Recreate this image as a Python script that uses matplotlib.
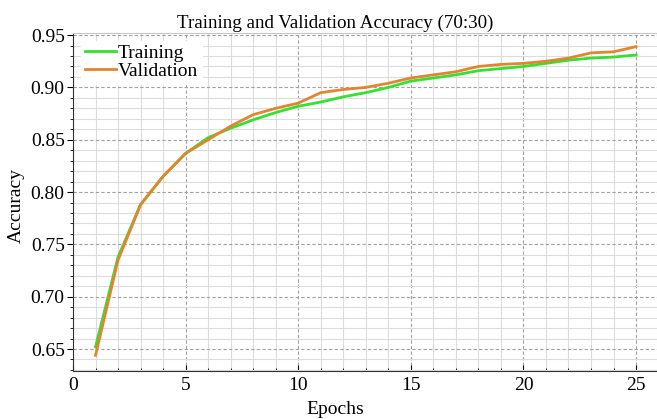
import matplotlib.pyplot as plt
from matplotlib.ticker import MultipleLocator

plt.rcParams['font.family'] = ['Liberation Serif', 'DejaVu Serif']

epochs = list(range(1, 26))
train_acc = [0.652, 0.738, 0.788, 0.815, 0.837, 0.852, 0.861, 0.869, 0.876, 0.882,
             0.886, 0.891, 0.895, 0.900, 0.906, 0.909, 0.912, 0.916, 0.918, 0.920,
             0.923, 0.926, 0.928, 0.929, 0.931]
val_acc = [0.644, 0.735, 0.788, 0.815, 0.837, 0.850, 0.863, 0.874, 0.880, 0.885,
           0.895, 0.898, 0.900, 0.904, 0.909, 0.912, 0.915, 0.920, 0.922, 0.923,
           0.925, 0.928, 0.933, 0.934, 0.939]

fig = plt.figure(figsize=(6.57, 4.19), dpi=100)
ax = fig.add_axes([73 / 657, 1 - 371 / 419, 584 / 657, 338 / 419])

ax.plot(epochs, train_acc, color='#33e033', lw=2, label='Training')
ax.plot(epochs, val_acc, color='#e0862e', lw=2, label='Validation')

ax.set_xlim(0, 25.93)
ax.set_ylim(0.629, 0.952)
ax.xaxis.set_major_locator(MultipleLocator(5))
ax.xaxis.set_minor_locator(MultipleLocator(1))
ax.yaxis.set_major_locator(MultipleLocator(0.05))
ax.yaxis.set_minor_locator(MultipleLocator(0.01))
ax.yaxis.set_major_formatter(plt.FormatStrFormatter('%.2f'))

ax.grid(which='major', color='#a0a0a0', ls=(0, (3, 2)), lw=0.8)
ax.grid(which='minor', color='#dcdcdc', ls='-', lw=0.8)
ax.set_axisbelow(True)

ax.spines['right'].set_visible(False)
ax.spines['top'].set_color('#c8c8c8')
ax.spines['left'].set_color('#333333')
ax.spines['bottom'].set_color('#333333')

ax.tick_params(axis='y', which='major', direction='out', length=4, labelsize=14, pad=2)
ax.tick_params(axis='y', which='minor', direction='out', length=2)
ax.tick_params(axis='x', which='major', direction='in', length=4, labelsize=14, pad=4)
ax.tick_params(axis='x', which='minor', direction='in', length=2)

ax.set_title('Training and Validation Accuracy (70:30)', fontsize=13.7, pad=4, x=0.449)
ax.set_xlabel('Epochs', fontsize=14)
ax.xaxis.set_label_coords(0.449, -0.09)
ax.set_ylabel('Accuracy', fontsize=14)
ax.yaxis.set_label_coords(-0.083, 0.49)

leg = ax.legend(loc='upper left', fontsize=14, frameon=True, fancybox=False,
                borderpad=0.2, handlelength=1.6, handletextpad=0.1,
                labelspacing=0.0, borderaxespad=0.4)
leg.get_frame().set_edgecolor('white')
leg.get_frame().set_alpha(1)

plt.savefig('out.png', dpi=100)
